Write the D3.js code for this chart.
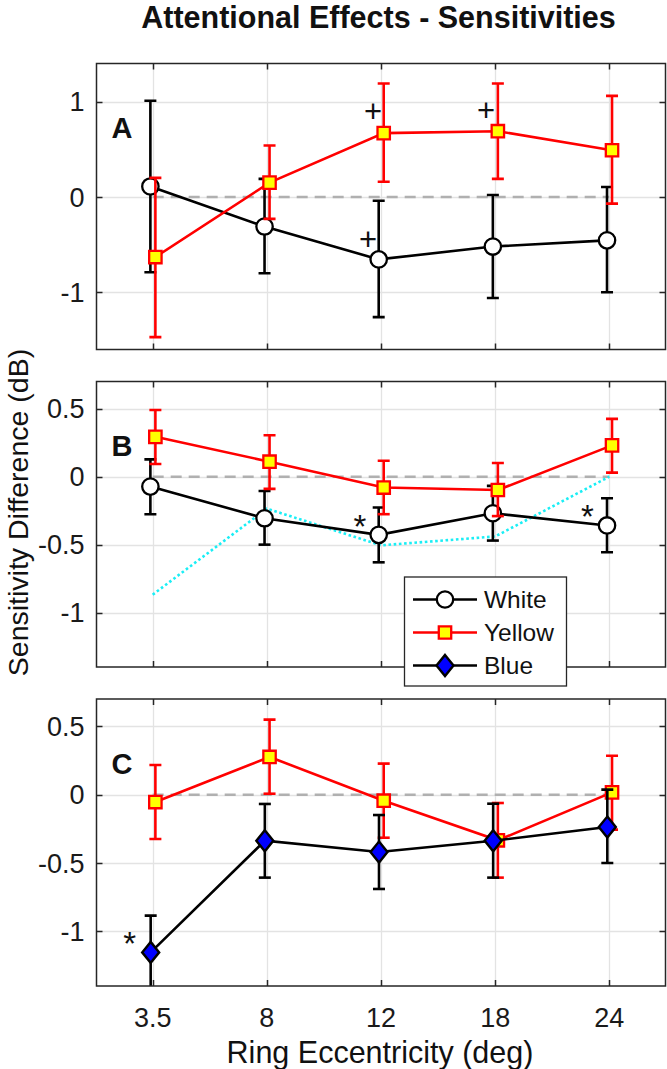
<!DOCTYPE html>
<html><head><meta charset="utf-8">
<script src="https://cdn.jsdelivr.net/npm/d3@7"></script>
<style>
html,body{margin:0;padding:0;background:#fff;}
svg{display:block;font-family:"Liberation Sans",Arial,Helvetica,sans-serif;}
</style></head><body>
<svg id="chart" width="667" height="1069"></svg>
<script>
// ---------------- DATA ----------------
const categories = ["3.5", "8", "12", "18", "24"];
const yTicksA = [-1, 0, 1];
const yTicksBC = [-1, -0.5, 0, 0.5];

// Panel A
const aWhite   = [0.11, -0.31, -0.655, -0.52, -0.455];
const aWhiteLo = [-0.79, -0.80, -1.26, -1.06, -1.00];
const aWhiteHi = [1.01, 0.19, -0.04, 0.02, 0.105];
const aYellow   = [-0.63, 0.15, 0.67, 0.69, 0.49];
const aYellowLo = [-1.47, -0.23, 0.16, 0.19, -0.07];
const aYellowHi = [0.20, 0.54, 1.19, 1.19, 1.06];

// Panel B
const bWhite   = [-0.073, -0.306, -0.428, -0.269, -0.359];
const bWhiteLo = [-0.276, -0.50, -0.63, -0.47, -0.556];
const bWhiteHi = [0.127, -0.105, -0.227, -0.068, -0.159];
const bYellow   = [0.293, 0.11, -0.08, -0.098, 0.23];
const bYellowLo = [0.093, -0.09, -0.276, -0.29, 0.03];
const bYellowHi = [0.49, 0.305, 0.117, 0.10, 0.425];
const bCyan = [-0.868, -0.235, -0.505, -0.44, 0.0];

// Panel C
const cYellow   = [-0.054, 0.276, -0.044, -0.334, 0.017];
const cYellowLo = [-0.324, 0.007, -0.315, -0.607, -0.256];
const cYellowHi = [0.217, 0.549, 0.227, -0.061, 0.285];
const cBlue   = [-1.154, -0.337, -0.42, -0.337, -0.237];
const cBlueLo = [-1.42, -0.607, -0.69, -0.607, -0.50];
const cBlueHi = [-0.885, -0.068, -0.149, -0.066, 0.037];

// significance marks
const annotPanel  = ["A", "A", "A", "B", "B", "C"];
const annotCat    = ["12", "18", "12", "12", "24", "3.5"];
const annotValue  = [0.895, 0.91, -0.445, -0.317, -0.244, -1.04];
const annotSymbol = ["+", "+", "+", "*", "*", "*"];

const legendLabels = ["White", "Yellow", "Blue"];

// ---------------- LAYOUT ----------------
const svg = d3.select("#chart");
const AX_L = 96.5, AX_R = 665.5;
const x = d3.scaleLinear().domain([0.5, 5.5]).range([95.6, 666.4]);
const xOf = c => x(categories.indexOf(c) + 1);
const annotDx = [-8, -9, -13, -21, -22, -23];
const AX_COLOR = "#262626";
const GRID = "#e3e3e3";
const FONT_TICK = 27;
const FONT_LABEL = 30.5;

const styles = {
  white:  {line: "#000", bar: "#000", marker: "circle",  fill: "#fff", stroke: "#000", dx: -2.3},
  yellow: {line: "#ff0000", bar: "#ff0000", marker: "square", fill: "#ffff00", stroke: "#ff0000", dx: 2.7},
  blue:   {line: "#000", bar: "#000", marker: "diamond", fill: "#0000ff", stroke: "#000", dx: -2.0}
};

const panels = [
  {id: "A", top: 63.5, bottom: 349.5, domain: [-1.6, 1.4], ticks: yTicksA, cyan: null,
   series: [{s: "white", v: aWhite, lo: aWhiteLo, hi: aWhiteHi}, {s: "yellow", v: aYellow, lo: aYellowLo, hi: aYellowHi}]},
  {id: "B", top: 381.5, bottom: 667, domain: [-1.4, 0.7], ticks: yTicksBC, cyan: bCyan,
   series: [{s: "white", v: bWhite, lo: bWhiteLo, hi: bWhiteHi}, {s: "yellow", v: bYellow, lo: bYellowLo, hi: bYellowHi}]},
  {id: "C", top: 699, bottom: 986, domain: [-1.4, 0.7], ticks: yTicksBC, cyan: null, xlabels: true,
   series: [{s: "yellow", v: cYellow, lo: cYellowLo, hi: cYellowHi}, {s: "blue", v: cBlue, lo: cBlueLo, hi: cBlueHi}]}
];

function markerPath(type) {
  if (type === "square") return "M-6.2,-6.2H6.2V6.2H-6.2Z";
  if (type === "diamond") return "M0,-10.5L8.5,0L0,10.5L-8.5,0Z";
  return null;
}
function drawMarker(g, type, cx, cy, st) {
  if (type === "circle") {
    g.append("circle").attr("cx", cx).attr("cy", cy).attr("r", 8.2)
      .attr("fill", st.fill).attr("stroke", st.stroke).attr("stroke-width", 2.3);
  } else {
    g.append("path").attr("d", markerPath(type)).attr("transform", `translate(${cx},${cy})`)
      .attr("fill", st.fill).attr("stroke", st.stroke).attr("stroke-width", type === "diamond" ? 2.4 : 2.3)
      .attr("stroke-linejoin", "miter");
  }
}

panels.forEach((p, pi) => {
  const y = d3.scaleLinear().domain(p.domain).range([p.bottom, p.top]);
  const g = svg.append("g");
  const clipId = "clip" + p.id;
  svg.append("clipPath").attr("id", clipId).append("rect")
    .attr("x", AX_L).attr("y", p.top).attr("width", AX_R - AX_L).attr("height", p.bottom - p.top);

  g.append("rect").attr("x", AX_L).attr("y", p.top).attr("width", AX_R - AX_L).attr("height", p.bottom - p.top).attr("fill", "#fff");

  // grid
  const grid = g.append("g");
  grid.selectAll(".gx").data(categories).join("line")
    .attr("x1", d => Math.round(xOf(d)) + 0.5).attr("x2", d => Math.round(xOf(d)) + 0.5)
    .attr("y1", p.top).attr("y2", p.bottom).attr("stroke", GRID).attr("stroke-width", 1.3);
  grid.selectAll(".gy").data(p.ticks).join("line")
    .attr("x1", AX_L).attr("x2", AX_R)
    .attr("y1", d => Math.round(y(d)) + 0.5).attr("y2", d => Math.round(y(d)) + 0.5)
    .attr("stroke", GRID).attr("stroke-width", 1.3);

  const plot = g.append("g").attr("clip-path", `url(#${clipId})`);

  // dashed zero line
  plot.append("line").attr("x1", xOf(categories[0])).attr("x2", xOf(categories[categories.length - 1]))
    .attr("y1", y(0)).attr("y2", y(0)).attr("stroke", "#b0b0b0").attr("stroke-width", 2.5)
    .attr("stroke-dasharray", "11,7");

  // cyan dotted
  if (p.cyan) {
    const ln = d3.line().x((d, i) => xOf(categories[i])).y(d => y(d));
    plot.append("path").attr("d", ln(p.cyan)).attr("fill", "none").attr("stroke", "#1aeef5")
      .attr("stroke-width", 2.6).attr("stroke-dasharray", "2.6,2.6");
  }

  // series
  p.series.forEach(se => {
    const st = styles[se.s];
    const sg = plot.append("g");
    const px = i => xOf(categories[i]) + st.dx;
    se.v.forEach((v, i) => {
      const cx = px(i);
      sg.append("line").attr("x1", cx).attr("x2", cx).attr("y1", y(se.lo[i])).attr("y2", y(se.hi[i]))
        .attr("stroke", st.bar).attr("stroke-width", 2.6);
      [se.lo[i], se.hi[i]].forEach(e => {
        sg.append("line").attr("x1", cx - 6).attr("x2", cx + 6).attr("y1", y(e)).attr("y2", y(e))
          .attr("stroke", st.bar).attr("stroke-width", 2.6);
      });
    });
    const ln = d3.line().x((d, i) => px(i)).y(d => y(d));
    sg.append("path").attr("d", ln(se.v)).attr("fill", "none").attr("stroke", st.line).attr("stroke-width", 2.6);
    se.v.forEach((v, i) => drawMarker(sg, st.marker, px(i), y(v), st));
  });

  // annotations
  annotPanel.forEach((ap, k) => {
    if (ap !== p.id) return;
    const sym = annotSymbol[k];
    const fs = sym === "*" ? 33 : 31;
    const base = y(annotValue[k]) + (sym === "*" ? 0.56 * fs : 0.35 * fs);
    g.append("text").attr("x", xOf(annotCat[k]) + annotDx[k]).attr("y", base)
      .attr("text-anchor", "middle").attr("font-size", fs).attr("fill", "#111").text(sym);
  });

  // panel label
  g.append("text").attr("x", AX_L + 15).attr("y", p.top + 74.5).attr("font-size", 29)
    .attr("font-weight", "bold").attr("fill", "#111").text(p.id);

  // axes box
  g.append("rect").attr("x", AX_L).attr("y", p.top).attr("width", AX_R - AX_L).attr("height", p.bottom - p.top)
    .attr("fill", "none").attr("stroke", AX_COLOR).attr("stroke-width", 1.5);

  // ticks (inward, all four sides)
  const tk = g.append("g").attr("stroke", AX_COLOR).attr("stroke-width", 1.5);
  categories.forEach(c => {
    const xx = Math.round(xOf(c)) + 0.5;
    tk.append("line").attr("x1", xx).attr("x2", xx).attr("y1", p.top).attr("y2", p.top + 6);
    tk.append("line").attr("x1", xx).attr("x2", xx).attr("y1", p.bottom).attr("y2", p.bottom - 6);
  });
  p.ticks.forEach(t => {
    const yy = Math.round(y(t)) + 0.5;
    tk.append("line").attr("x1", AX_L).attr("x2", AX_L + 6).attr("y1", yy).attr("y2", yy);
    tk.append("line").attr("x1", AX_R).attr("x2", AX_R - 6).attr("y1", yy).attr("y2", yy);
  });

  // y tick labels
  g.selectAll(".yl").data(p.ticks).join("text")
    .attr("x", AX_L - 12).attr("y", d => y(d) + 0.36 * FONT_TICK)
    .attr("text-anchor", "end").attr("font-size", FONT_TICK).attr("fill", "#1a1a1a")
    .text(d => String(d));

  if (p.xlabels) {
    g.selectAll(".xl").data(categories).join("text")
      .attr("x", d => xOf(d)).attr("y", p.bottom + 40.5)
      .attr("text-anchor", "middle").attr("font-size", FONT_TICK).attr("fill", "#1a1a1a").text(d => d);
  }
});

// legend
const lg = svg.append("g");
lg.append("rect").attr("x", 404.5).attr("y", 577).attr("width", 162).attr("height", 109)
  .attr("fill", "#fff").attr("stroke", AX_COLOR).attr("stroke-width", 1.3);
const legendStyles = ["white", "yellow", "blue"];
legendLabels.forEach((lab, i) => {
  const st = styles[legendStyles[i]];
  const cy = 599.5 + i * 33;
  lg.append("line").attr("x1", 413).attr("x2", 477).attr("y1", cy).attr("y2", cy)
    .attr("stroke", st.line).attr("stroke-width", 2.6);
  drawMarker(lg, st.marker, 445, cy, st);
  lg.append("text").attr("x", 484).attr("y", cy + 8.5).attr("font-size", 24.5).attr("fill", "#111").text(lab);
});

// title & axis labels
svg.append("text").attr("x", 378.5).attr("y", 27.5).attr("text-anchor", "middle")
  .attr("font-size", 30.5).attr("font-weight", "bold").attr("fill", "#111")
  .text("Attentional Effects - Sensitivities");
svg.append("text").attr("x", 380).attr("y", 1063).attr("text-anchor", "middle")
  .attr("font-size", FONT_LABEL).attr("fill", "#111").text("Ring Eccentricity (deg)");
svg.append("text").attr("transform", "translate(27.5,512.5) rotate(-90)").attr("text-anchor", "middle")
  .attr("font-size", 28.5).attr("fill", "#111").text("Sensitivity Difference (dB)");
</script>
</body></html>
